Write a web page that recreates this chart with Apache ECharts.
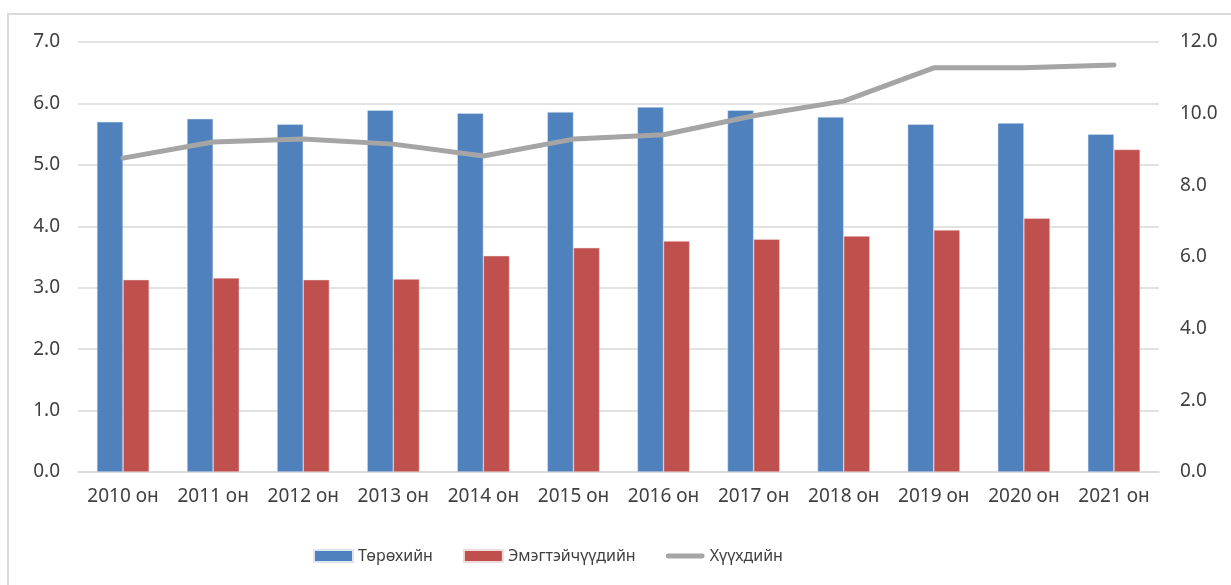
<!DOCTYPE html>
<html>
<head>
<meta charset="utf-8">
<script src="https://cdn.jsdelivr.net/npm/echarts@6/dist/echarts.min.js"></script>
<style>
  html, body { margin: 0; padding: 0; background: #fff; overflow: hidden; }
  #frame { position: absolute; left: 7px; top: 13px; width: 1300px; height: 700px;
           border: 2px solid #d9d9d9; box-sizing: border-box; }
  #main { position: absolute; left: 0; top: 0; width: 1231px; height: 585px; }
</style>
</head>
<body>
<div id="frame"></div>
<div id="main"></div>
<script>
// категориуд
var years = ['2010 он', '2011 он', '2012 он', '2013 он', '2014 он', '2015 он',
             '2016 он', '2017 он', '2018 он', '2019 он', '2020 он', '2021 он'];
// Төрөхийн (зүүн тэнхлэг)
var torokhiin = [5.70, 5.75, 5.66, 5.89, 5.84, 5.86, 5.94, 5.89, 5.78, 5.66, 5.68, 5.50];
// Эмэгтэйчүүдийн (зүүн тэнхлэг)
var emegteichuudiin = [3.13, 3.16, 3.13, 3.14, 3.52, 3.65, 3.76, 3.79, 3.84, 3.94, 4.13, 5.25];
// Хүүхдийн (баруун тэнхлэг)
var khuukhdiin = [8.76, 9.21, 9.29, 9.15, 8.82, 9.29, 9.41, 9.94, 10.35, 11.28, 11.28, 11.36];

var font = '"Noto Sans", sans-serif';
var myChart = echarts.init(document.getElementById('main'));
var option = {
  animation: false,
  textStyle: { fontFamily: font },
  grid: { left: 78, right: 72, top: 42, bottom: 113 },
  legend: {
    left: 308,
    top: 543,
    itemGap: 30,
    itemWidth: 39,
    itemHeight: 12,
    textStyle: { fontSize: 16, color: '#404040', fontFamily: font },
    data: [
      { name: 'Төрөхийн', icon: 'rect' },
      { name: 'Эмэгтэйчүүдийн', icon: 'rect' },
      { name: 'Хүүхдийн',
        icon: 'path://M2.5,0 L37.5,0 A2.5,2.5 0 0 1 37.5,5 L2.5,5 A2.5,2.5 0 0 1 2.5,0 Z' }
    ]
  },
  xAxis: {
    type: 'category',
    data: years,
    axisTick: { show: false },
    axisLine: { lineStyle: { color: '#d9d9d9', width: 1.5 } },
    axisLabel: { fontSize: 19, color: '#404040', margin: 15, interval: 0 }
  },
  yAxis: [{
    type: 'value', min: 0, max: 7, interval: 1,
    axisLabel: { fontSize: 19, color: '#404040', margin: 18,
      formatter: function (v) { return v.toFixed(1); } },
    splitLine: { lineStyle: { color: '#d9d9d9', width: 1.5 } },
    axisLine: { show: false }, axisTick: { show: false }
  }, {
    type: 'value', min: 0, max: 12, interval: 2,
    axisLabel: { fontSize: 19, color: '#404040', margin: 21,
      formatter: function (v) { return v.toFixed(1); } },
    splitLine: { show: false },
    axisLine: { show: false }, axisTick: { show: false }
  }],
  series: [{
    name: 'Төрөхийн', type: 'bar', data: torokhiin,
    barGap: '0%', barCategoryGap: '42%',
    itemStyle: { color: '#4f81bd', borderColor: '#dce6f2', borderWidth: 0.5 }
  }, {
    name: 'Эмэгтэйчүүдийн', type: 'bar', data: emegteichuudiin,
    itemStyle: { color: '#c0504d', borderColor: '#f2dcdb', borderWidth: 0.5 }
  }, {
    name: 'Хүүхдийн', type: 'line', yAxisIndex: 1, data: khuukhdiin,
    symbol: 'none',
    lineStyle: { color: '#a5a5a5', width: 5, cap: 'round', join: 'round' },
    itemStyle: { color: '#a5a5a5' }
  }]
};
myChart.setOption(option);
</script>
</body>
</html>
